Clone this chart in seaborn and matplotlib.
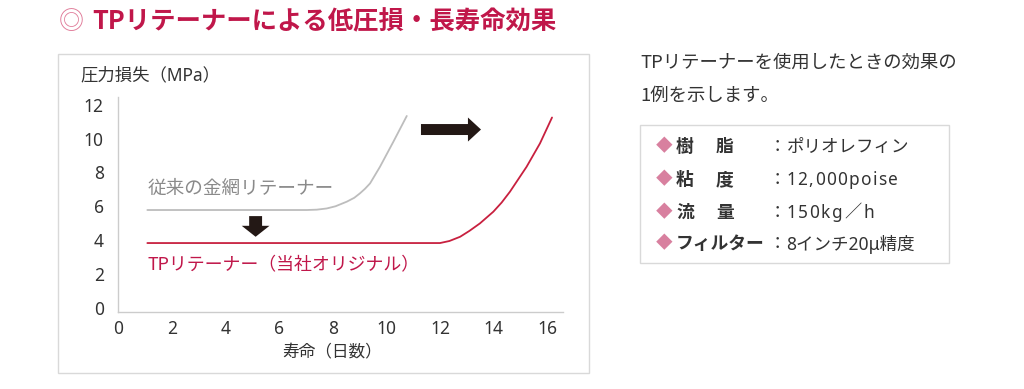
import matplotlib
matplotlib.use("Agg")
import matplotlib.pyplot as plt
import seaborn as sns
import pandas as pd
from matplotlib.patches import Rectangle

# ---- data ----
conv_x = [1.08, 3.0, 5.0, 7.03, 7.4, 7.77, 8.1, 8.52, 8.8, 9.01, 9.2, 9.39, 9.76, 10.26, 10.76]
conv_y = [5.78, 5.78, 5.78, 5.78, 5.80, 5.87, 6.0, 6.27, 6.5, 6.76, 7.03, 7.35, 8.33, 9.81, 11.33]
tp_x = [1.08, 4.0, 8.0, 12.0, 12.35, 12.75, 13.1, 13.49, 13.99, 14.3, 14.61, 15.23, 15.73, 16.18]
tp_y = [3.83, 3.83, 3.83, 3.83, 3.95, 4.2, 4.55, 4.99, 5.68, 6.22, 6.86, 8.33, 9.71, 11.24]
x_ticks = [0, 2, 4, 6, 8, 10, 12, 14, 16]
y_ticks = [0, 2, 4, 6, 8, 10, 12]

title = "TPリテーナーによる低圧損・長寿命効果"
ylabel = "圧力損失（MPa）"
xlabel = "寿命（日数）"
conv_label = "従来の金網リテーナー"
tp_label = "TPリテーナー（当社オリジナル）"
desc_lines = ["TPリテーナーを使用したときの効果の", "1例を示します。"]
spec_keys = [("樹", "脂"), ("粘", "度"), ("流", "量"), ("フィルター",)]
spec_vals = ["ポリオレフィン", "12,000poise", "150kg／h", "8インチ20μ精度"]

CRIMSON = "#c0174a"
RED_LINE = "#c8203f"
GRAY_LINE = "#bdbdbd"
GRAY_TEXT = "#8a8a8a"
DARK = "#333333"
ARROW = "#231815"
PINK = "#d8809f"
BORDER = "#d9d9d9"

sns.set_theme(style="white")
plt.rcParams["font.family"] = ["Noto Sans CJK JP", "DejaVu Sans"]
LATIN = ["Noto Sans", "Noto Sans CJK JP", "DejaVu Sans"]

W, H = 1024, 389
fig = plt.figure(figsize=(W / 100, H / 100), dpi=100)
renderer = fig.canvas.get_renderer()


def P(x, y):
    return (x / W, 1 - y / H)


def ink_width(s, **kw):
    t = fig.text(0, 0, s, **kw)
    w = t.get_window_extent(renderer=renderer).width
    t.remove()
    return w


def tracked_text(xpx, ypx, s, right_px, **kw):
    """Draw string char by char, spread so it ends at right_px (letter spacing)."""
    n = len(s)
    natural = ink_width(s, **kw)
    sp = max((right_px - xpx - natural) / max(n - 1, 1), 0)
    for k, c in enumerate(s):
        off = ink_width(s[:k + 1], **kw) - ink_width(c, **kw) if k > 0 else 0
        fig.text(*P(xpx + off + k * sp, ypx), c, ha="left", va="center", **kw)


# axes placement
x0px, x1px = 118.4, 563
ybot, ytop = 312, 97
ax = fig.add_axes([x0px / W, 1 - ybot / H, (x1px - x0px) / W, (ybot - ytop) / H])
ax.set_xlim(0, (x1px - x0px) / 26.8)
ax.set_ylim(-0.24, 12.45)

df = pd.concat([
    pd.DataFrame({"day": conv_x, "mpa": conv_y, "s": "conv"}),
    pd.DataFrame({"day": tp_x, "mpa": tp_y, "s": "tp"}),
])
sns.lineplot(data=df, x="day", y="mpa", hue="s", palette={"conv": GRAY_LINE, "tp": RED_LINE},
             ax=ax, legend=False, linewidth=1.3, estimator=None, sort=False)

ax.set_xticks(x_ticks)
ax.set_yticks(y_ticks)
ax.set_xticklabels([str(v) for v in x_ticks], family=LATIN)
ax.set_yticklabels([str(v) for v in y_ticks], family=LATIN)
ax.tick_params(axis="both", length=0, labelsize=12.5, colors=DARK)
ax.tick_params(axis="x", pad=6)
ax.tick_params(axis="y", pad=10.5)
ax.set_xlabel("")
ax.set_ylabel("")
for s in ["top", "right"]:
    ax.spines[s].set_visible(False)
for s in ["left", "bottom"]:
    ax.spines[s].set_color("#cccccc")
    ax.spines[s].set_linewidth(1.0)
ax.patch.set_alpha(0)

# curve labels
ax.text(1.08, 7.0, conv_label, color=GRAY_TEXT, fontsize=13.4, va="center", ha="left")
ax.text(1.08, 2.52, tp_label, color=CRIMSON, fontsize=12.9, va="center", ha="left")

# arrows (in data coords)
ax.annotate("", xy=(13.53, 10.53), xytext=(11.29, 10.53),
            arrowprops=dict(arrowstyle="simple,head_length=0.94,head_width=1.73,tail_width=0.79",
                            mutation_scale=10, color=ARROW, lw=0, shrinkA=0, shrinkB=0))
ax.annotate("", xy=(5.12, 4.2), xytext=(5.12, 5.42),
            arrowprops=dict(arrowstyle="simple,head_length=0.79,head_width=2.0,tail_width=0.93",
                            mutation_scale=10, color=ARROW, lw=0, shrinkA=0, shrinkB=0))

# axis labels
fig.text(*P(80, 75), ylabel, fontsize=12.5, color=DARK, ha="left", va="center", family=LATIN)
fig.text(*P(332.5, 353), xlabel, fontsize=12, color=DARK, ha="center", va="center")

# chart frame
fig.patches.append(Rectangle(P(58, 373), (589 - 58) / W, (373 - 54) / H, transform=fig.transFigure,
                             fill=False, edgecolor=BORDER, lw=1.0))

# title
fig.text(*P(71, 22), "◎", fontsize=18, color="#e07a98", ha="center", va="center")
fig.text(*P(92, 22), title, fontsize=18.3, color=CRIMSON, ha="left", va="center", fontweight="bold")

# description
fig.text(*P(640, 63), desc_lines[0], fontsize=13.2, color=DARK, ha="left", va="center")
fig.text(*P(640, 96), desc_lines[1], fontsize=13.2, color=DARK, ha="left", va="center")

# spec box
fig.patches.append(Rectangle(P(640, 263), (949 - 640) / W, (263 - 125) / H, transform=fig.transFigure,
                             fill=False, edgecolor=BORDER, lw=1.0))
rows_y = [146.7, 180, 213, 244]
val_right = [None, 898, 874, None]
for yy, key, val, vr in zip(rows_y, spec_keys, spec_vals, val_right):
    fig.text(*P(663.7, yy), "◆", fontsize=12, color=PINK, ha="center", va="center")
    if len(key) == 2:
        fig.text(*P(676, yy), key[0], fontsize=12.8, color=DARK, ha="left", va="center", fontweight="bold")
        fig.text(*P(716, yy), key[1], fontsize=12.8, color=DARK, ha="left", va="center", fontweight="bold")
    else:
        fig.text(*P(676, yy), key[0], fontsize=12.8, color=DARK, ha="left", va="center", fontweight="bold")
    fig.text(*P(777, yy), "：", fontsize=12.5, color=DARK, ha="center", va="center")
    if vr is None:
        fig.text(*P(786.5, yy), val, fontsize=12.6, color=DARK, ha="left", va="center", family=LATIN)
    else:
        tracked_text(786, yy, val, vr, fontsize=12.4, color=DARK, family=LATIN)

fig.savefig("out.png", dpi=100, facecolor="white")
